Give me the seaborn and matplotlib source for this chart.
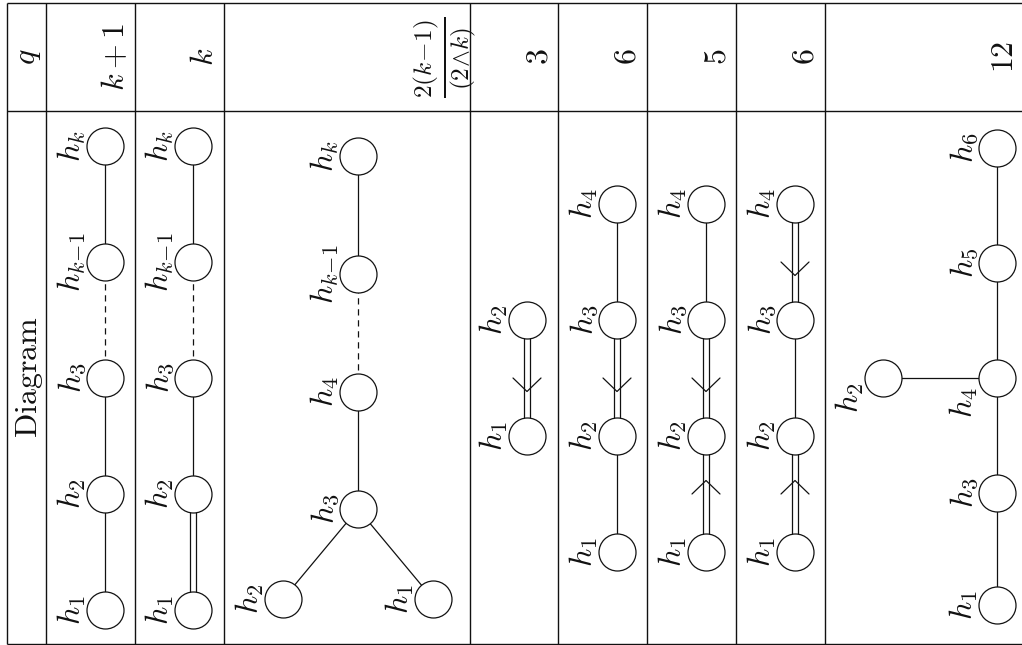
import matplotlib
matplotlib.use("Agg")
import matplotlib.pyplot as plt
import seaborn as sns
import pandas as pd
import numpy as np

# ---------------- table structure ----------------
col_edges = [7, 46, 135, 224, 470, 558, 647, 736, 825]
row_edges = [3, 111, 644]
header_texts = [r"$q$", r"$k+1$", r"$k$",
                r"$\frac{2(k\!-\!1)}{(2\!\wedge\! k)}$",
                r"$3$", r"$6$", r"$5$", r"$6$", r"$12$"]
row_title = r"$\mathrm{Diagram}$"

# ---------------- diagrams (node labels, positions, edges) ----------------
# edge kinds: 's' single, 'd' dashed, '2' double; arrow: +1 apex toward 2nd node, -1 toward 1st, 0 none
d1_labels = [r"$h_1$", r"$h_2$", r"$h_3$", r"$h_{k\!-\!1}$", r"$h_k$"]
d1_x = [105, 105, 105, 105, 105]
d1_y = [610, 494, 378, 262, 146]
d1_edges = [(0, 1, 's', 0), (1, 2, 's', 0), (2, 3, 'd', 0), (3, 4, 's', 0)]

d2_labels = [r"$h_1$", r"$h_2$", r"$h_3$", r"$h_{k\!-\!1}$", r"$h_k$"]
d2_x = [193, 193, 193, 193, 193]
d2_y = [610, 494, 378, 262, 146]
d2_edges = [(0, 1, '2', 0), (1, 2, 's', 0), (2, 3, 'd', 0), (3, 4, 's', 0)]

d3_labels = [r"$h_1$", r"$h_2$", r"$h_3$", r"$h_4$", r"$h_{k\!-\!1}$", r"$h_k$"]
d3_x = [433, 283, 358, 358, 358, 358]
d3_y = [599, 599, 509, 392, 274, 156]
d3_edges = [(0, 2, 's', 0), (1, 2, 's', 0), (2, 3, 's', 0), (3, 4, 'd', 0), (4, 5, 's', 0)]

d4_labels = [r"$h_1$", r"$h_2$"]
d4_x = [527, 527]
d4_y = [436, 320]
d4_edges = [(0, 1, '2', -1)]

d5_labels = [r"$h_1$", r"$h_2$", r"$h_3$", r"$h_4$"]
d5_x = [617, 617, 617, 617]
d5_y = [552, 436, 320, 204]
d5_edges = [(0, 1, 's', 0), (1, 2, '2', -1), (2, 3, 's', 0)]

d6_labels = [r"$h_1$", r"$h_2$", r"$h_3$", r"$h_4$"]
d6_x = [706, 706, 706, 706]
d6_y = [552, 436, 320, 204]
d6_edges = [(0, 1, '2', 1), (1, 2, '2', -1), (2, 3, 's', 0)]

d7_labels = [r"$h_1$", r"$h_2$", r"$h_3$", r"$h_4$"]
d7_x = [795, 795, 795, 795]
d7_y = [552, 436, 320, 204]
d7_edges = [(0, 1, '2', 1), (1, 2, 's', 0), (2, 3, '2', -1)]

d8_labels = [r"$h_1$", r"$h_2$", r"$h_3$", r"$h_4$", r"$h_5$", r"$h_6$"]
d8_x = [997, 883, 997, 997, 997, 997]
d8_y = [605, 378, 493, 378, 263, 148]
d8_edges = [(0, 2, 's', 0), (2, 3, 's', 0), (1, 3, 's', 0), (3, 4, 's', 0), (4, 5, 's', 0)]
d8_label_dy = [0, 20, 0, 25, 0, 0]

diagrams = [
    (d1_labels, d1_x, d1_y, d1_edges, None),
    (d2_labels, d2_x, d2_y, d2_edges, None),
    (d3_labels, d3_x, d3_y, d3_edges, None),
    (d4_labels, d4_x, d4_y, d4_edges, None),
    (d5_labels, d5_x, d5_y, d5_edges, None),
    (d6_labels, d6_x, d6_y, d6_edges, None),
    (d7_labels, d7_x, d7_y, d7_edges, None),
    (d8_labels, d8_x, d8_y, d8_edges, d8_label_dy),
]

# ---------------- drawing ----------------
sns.set_theme(style="white")
plt.rcParams["mathtext.fontset"] = "cm"
plt.rcParams["font.family"] = ["DejaVu Sans"]

W, H = 1022, 645
fig = plt.figure(figsize=(W / 100, H / 100), dpi=100)
ax = fig.add_axes([0, 0, 1, 1])
ax.set_xlim(0, W)
ax.set_ylim(H, 0)
ax.axis("off")

FS = 23
LW_T = 1.0
LW_E = 0.9
K = "#111111"

# table grid
x_right = W
for yy in row_edges:
    ax.plot([col_edges[0], x_right], [yy, yy], color=K, lw=LW_T, solid_capstyle="butt")
for xe in col_edges:
    ax.plot([xe, xe], [row_edges[0], row_edges[2]], color=K, lw=LW_T, solid_capstyle="butt")

# header texts
hdr_y = (row_edges[0] + row_edges[1]) / 2
bounds = col_edges + [1024]
for i, txt in enumerate(header_texts):
    right = bounds[i + 1]
    if i == 3:
        ax.text(446, hdr_y, txt, rotation=90, rotation_mode="anchor",
                ha="center", va="center", fontsize=26, color=K)
    else:
        ax.text(right - 11, hdr_y, txt, rotation=90, rotation_mode="anchor",
                ha="center", va="baseline", fontsize=FS, color=K)

ax.text(37, (row_edges[1] + row_edges[2]) / 2, row_title, rotation=90,
        rotation_mode="anchor", ha="center", va="baseline", fontsize=FS, color=K)

R = 18.5
marker_pts = 2 * R * 72 / 100

for labels, xs, ys, edges, ldy in diagrams:
    for a, b, kind, arrow in edges:
        x0, y0, x1, y1 = xs[a], ys[a], xs[b], ys[b]
        dx, dy = x1 - x0, y1 - y0
        L = np.hypot(dx, dy)
        ux, uy = dx / L, dy / L
        px, py = -uy, ux
        if kind == 's':
            ax.plot([x0, x1], [y0, y1], color=K, lw=LW_E, zorder=2)
        elif kind == 'd':
            ax.plot([x0, x1], [y0, y1], color=K, lw=LW_E, zorder=2,
                    linestyle=(0, (5.0, 3.8)))
        else:
            for s in (-3.3, 3.3):
                ax.plot([x0 + s * px, x1 + s * px], [y0 + s * py, y1 + s * py],
                        color=K, lw=LW_E, zorder=2)
        if arrow != 0:
            mx, my = (x0 + x1) / 2, (y0 + y1) / 2
            d = 1 if arrow > 0 else -1
            axp, ayp = mx + d * 13.5 * ux, my + d * 13.5 * uy
            ax.plot([mx + 14 * px, axp, mx - 14 * px], [my + 14 * py, ayp, my - 14 * py],
                    color=K, lw=LW_E, zorder=2)
    df = pd.DataFrame({"x": xs, "y": ys})
    sns.scatterplot(data=df, x="x", y="y", ax=ax, s=marker_pts ** 2, marker="o",
                    color="white", edgecolor=K, linewidth=LW_E, zorder=3, legend=False)
    for j, lab in enumerate(labels):
        oy = ldy[j] if ldy is not None else 0
        ax.text(xs[j] - 33, ys[j] + oy, lab, rotation=90, ha="center", va="center",
                fontsize=FS, color=K, zorder=4)

ax.set_xlim(0, W)
ax.set_ylim(H, 0)
fig.savefig("out.png", dpi=100)
